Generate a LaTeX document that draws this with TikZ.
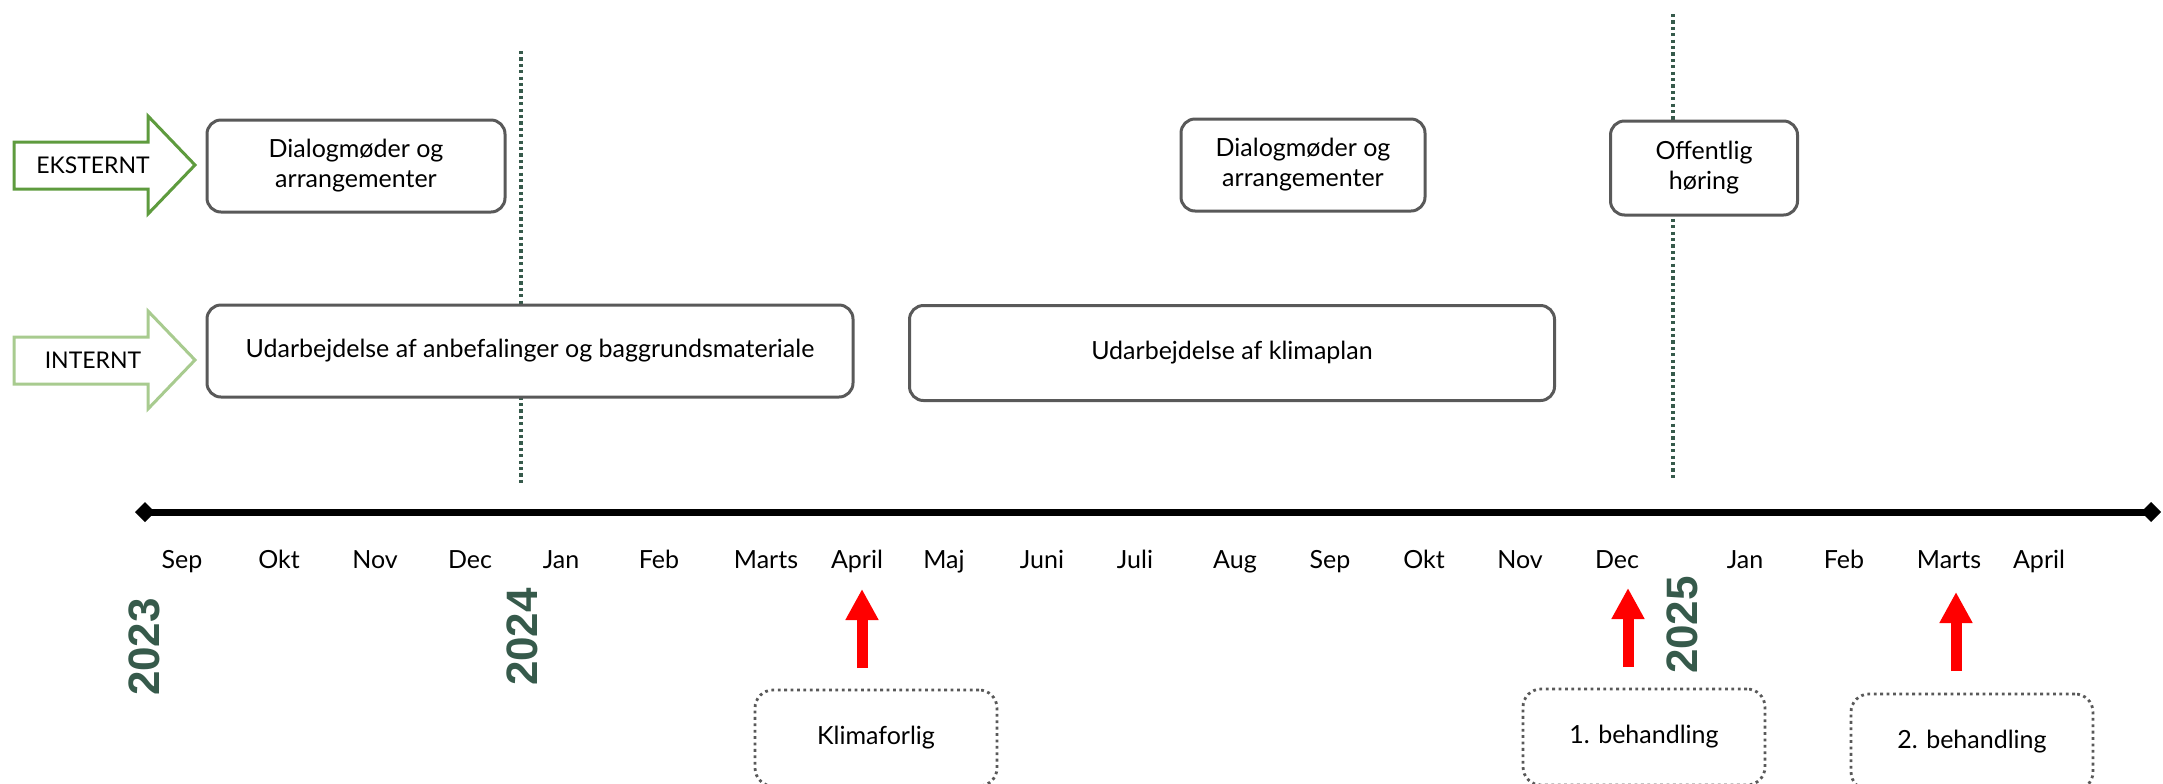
\documentclass[tikz,border=0pt]{standalone}
\usepackage{fontspec}
\setmainfont{Lato}
\newfontfamily\yearfont{Liberation Sans}
\usepackage{xcolor}
\usetikzlibrary{arrows.meta, positioning}

\definecolor{boxgray}{HTML}{595959}
\definecolor{yeargreen}{HTML}{365A4B}
\definecolor{eksgreen}{HTML}{5E9B3E}
\definecolor{intgreen}{HTML}{A8CB8F}

\begin{document}
\begin{tikzpicture}[x=0.5pt, y=-0.5pt, font=\fontsize{12.5}{15}\selectfont]
\tikzstyle{phase} = [draw=boxgray, fill=white, line width=1.5pt, rounded corners=7pt, align=center, minimum height=46pt]
\tikzstyle{event} = [draw=boxgray, fill=white, line width=1.4pt, dash pattern=on 1.4pt off 1.8pt, rounded corners=9pt, align=center, minimum width=121pt, minimum height=48pt]
\tikzstyle{month} = [anchor=base, font=\fontsize{12.5}{15}\selectfont]
\tikzstyle{year} = [rotate=90, text=yeargreen, font=\yearfont\bfseries\fontsize{22}{22}\selectfont]
\tikzstyle{divider} = [draw=yeargreen, line width=1.6pt, dash pattern=on 1.6pt off 1.6pt]
\tikzstyle{milestone} = [draw=red, line width=5.5pt, -{Triangle[length=15.5pt, width=15.5pt]}]
\tikzstyle{lane} = [line width=1.5pt, fill=white]

\useasboundingbox (0,0) rectangle (2163,783);

% year dividers
\coordinate (d1top) at (521,51);
\coordinate (d1bot) at (521,483);
\coordinate (d2top) at (1673,14);
\coordinate (d2bot) at (1673,480);
\path[divider] (d1top) -- (d1bot);
\path[divider] (d2top) -- (d2bot);

% lanes
\draw[lane, draw=eksgreen] (14,142) -- (148,142) -- (148,116) -- (195,165) -- (148,214) -- (148,189) -- (14,189) -- cycle;
\draw[lane, draw=intgreen] (14,337) -- (148,337) -- (148,311) -- (195,360) -- (148,409) -- (148,384) -- (14,384) -- cycle;
\node[font=\fontsize{11.5}{14}\selectfont] at (93,165) (ekst) {EKSTERNT};
\node[font=\fontsize{11.5}{14}\selectfont] at (93,360) (int) {INTERNT};

% phases
\node[phase, minimum width=149pt]			at (356, 166)	(dialog1)	{Dialogmøder og\\arrangementer};
\node[phase, minimum width=323pt]			at (530, 351)	(anbef)		{Udarbejdelse af anbefalinger og baggrundsmateriale};
\node[phase, minimum width=322.5pt, minimum height=47.5pt]	at (1232, 353)	(klimaplan)	{Udarbejdelse af klimaplan};
\node[phase, minimum width=122pt]			at (1303, 165)	(dialog2)	{Dialogmøder og\\arrangementer};
\node[phase, minimum width=93.5pt, minimum height=47pt]	at (1704, 168)	(hoering)	{Offentlig\\høring};

% time axis
\coordinate (axl) at (135,512);
\coordinate (axr) at (2161,512);
\draw[line width=3.5pt, {Diamond[length=10pt, width=10pt]}-{Diamond[length=10pt, width=10pt]}] (axl) -- (axr);

\foreach \m/\x in {Sep/182, Okt/279, Nov/375, Dec/470, Jan/561, Feb/659, Marts/766, April/857, Maj/944, Juni/1042, Juli/1135, Aug/1235, Sep/1330, Okt/1424, Nov/1520, Dec/1617, Jan/1745, Feb/1844, Marts/1949, April/2039}
	\node[month] at (\x, 568) (m\x) {\m};

\node[year] at (144, 647) (y2023) {2023};
\node[year] at (522, 637) (y2024) {2024};
\node[year] at (1682, 625) (y2025) {2025};

% milestones
\coordinate (aprbot) at (862,668);
\coordinate (aprtop) at (862,589);
\coordinate (decbot) at (1628,667);
\coordinate (dectop) at (1628,588);
\coordinate (marbot) at (1956,671);
\coordinate (martop) at (1956,592);
\draw[milestone] (aprbot) -- (aprtop);
\draw[milestone] (decbot) -- (dectop);
\draw[milestone] (marbot) -- (martop);

\node[event] at (876, 738)	(klima)	{Klimaforlig};
\node[event] at (1644, 737)	(beh1)	{1. behandling};
\node[event] at (1972, 742)	(beh2)	{2. behandling};
\end{tikzpicture}
\end{document}
